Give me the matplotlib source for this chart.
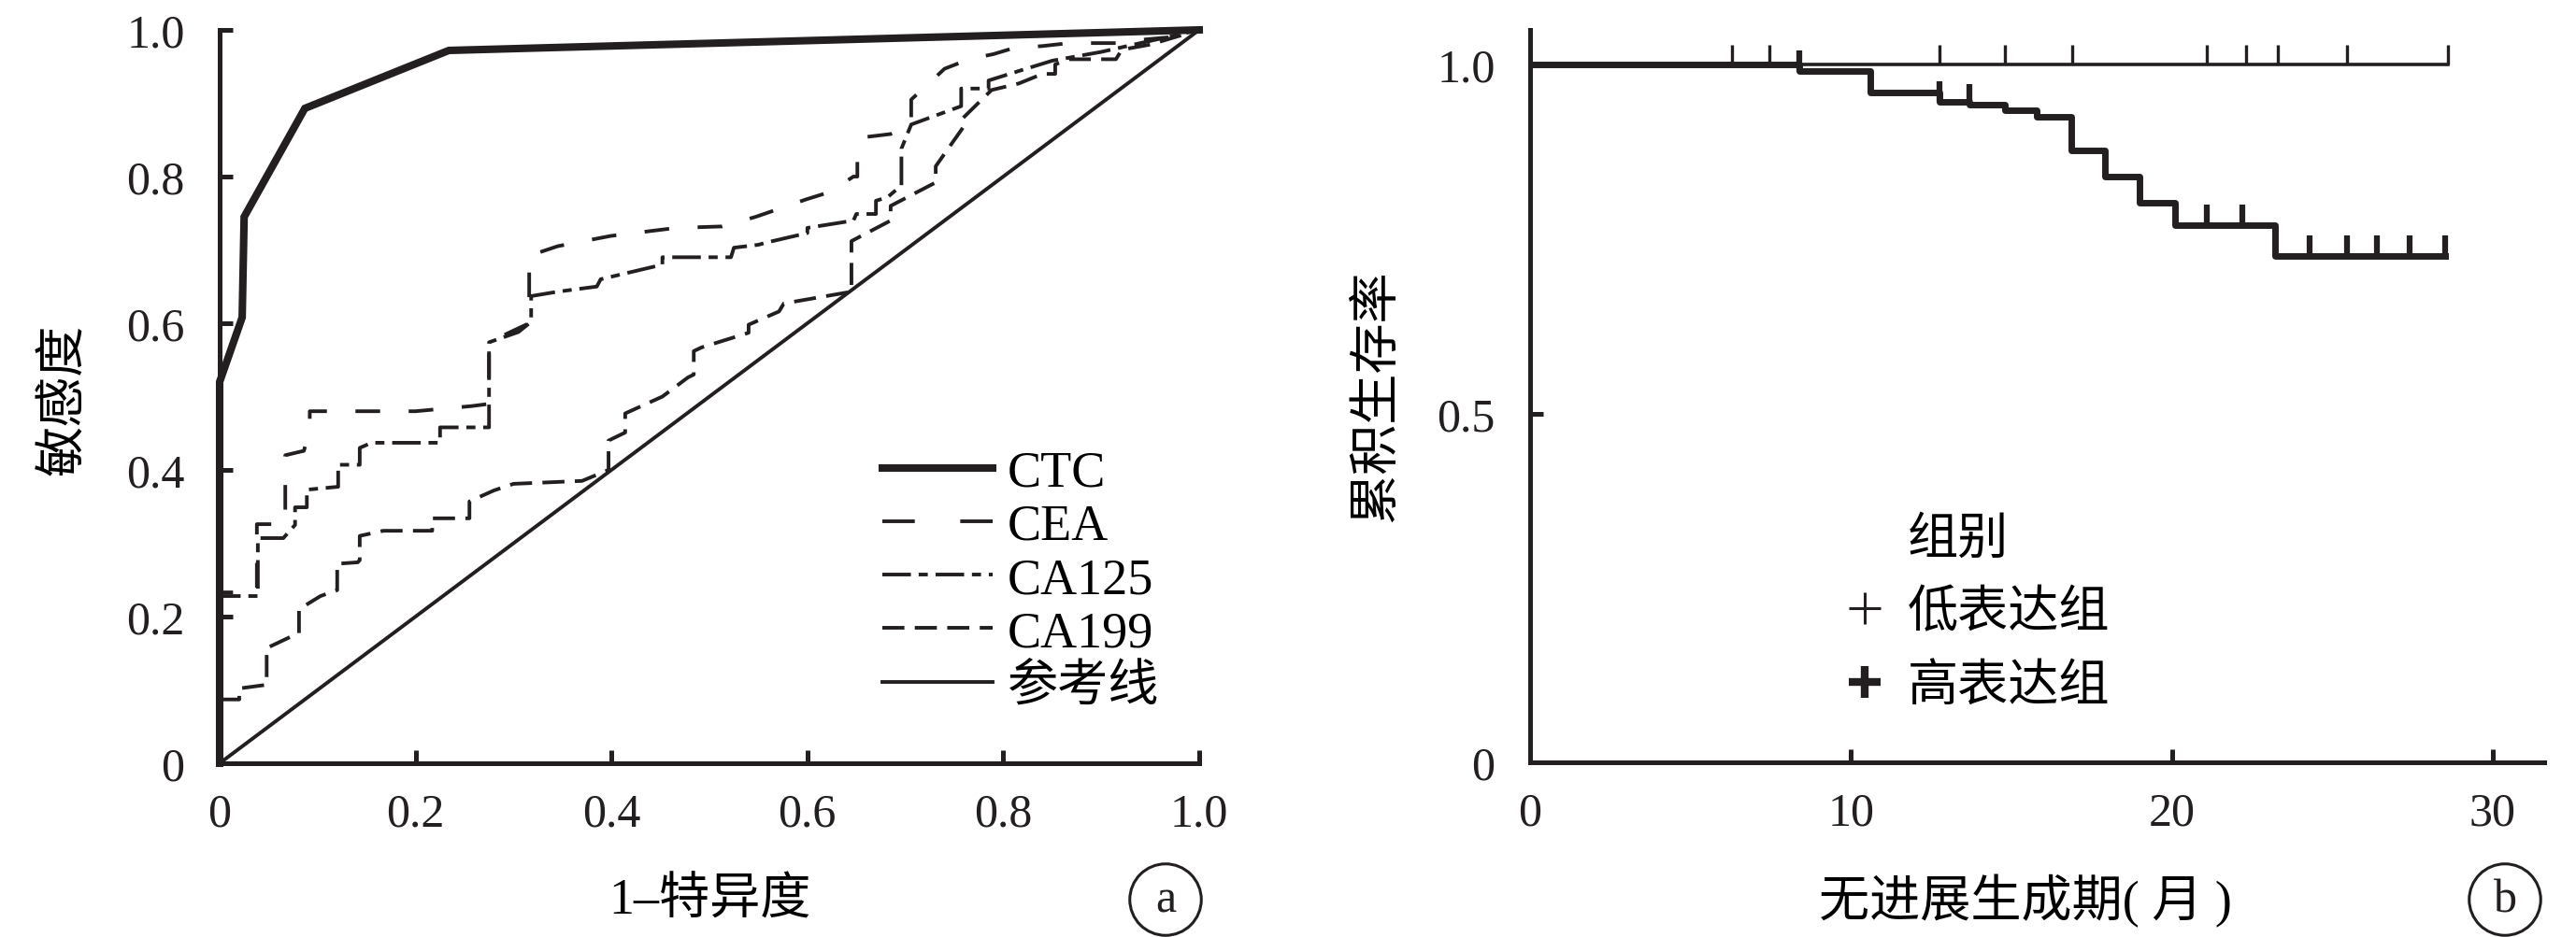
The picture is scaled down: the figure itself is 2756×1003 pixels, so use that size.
import numpy as np
import matplotlib
matplotlib.use("Agg")
import matplotlib.pyplot as plt
from matplotlib.lines import Line2D
from matplotlib.path import Path

plt.rcParams['font.family'] = ['Liberation Serif', 'Noto Sans CJK SC']
plt.rcParams['lines.scale_dashes'] = False
plt.rcParams['axes.unicode_minus'] = False

INK = '#231f20'

# ---------------- Panel a: ROC curves ----------------
ctc_fpr = [0.0, 0.0, 0.023, 0.025, 0.087, 0.234, 1.0]
ctc_tpr = [0.0, 0.52, 0.608, 0.745, 0.893, 0.972, 1.0]

cea_fpr = [0.0, 0.0, 0.038, 0.038, 0.067, 0.067, 0.086, 0.092, 0.092, 0.160,
           0.200, 0.257, 0.275, 0.275, 0.300, 0.316, 0.316, 0.345, 0.399, 0.466,
           0.513, 0.547, 0.571, 0.599, 0.623, 0.647, 0.651, 0.651, 0.660, 0.685,
           0.706, 0.706, 0.724, 0.740, 0.765, 0.790, 0.810, 0.840, 0.867, 0.890,
           0.920, 0.945, 0.970, 1.0]
cea_tpr = [0.0, 0.233, 0.233, 0.326, 0.326, 0.420, 0.426, 0.455, 0.480, 0.480,
           0.480, 0.487, 0.490, 0.574, 0.590, 0.600, 0.692, 0.705, 0.719, 0.730,
           0.732, 0.745, 0.756, 0.769, 0.779, 0.800, 0.800, 0.830, 0.854, 0.858,
           0.871, 0.905, 0.927, 0.947, 0.960, 0.967, 0.975, 0.978, 0.982, 0.982,
           0.982, 0.987, 0.990, 1.0]

ca125_fpr = [0.0, 0.0, 0.039, 0.039, 0.065, 0.077, 0.077, 0.089, 0.089, 0.121,
             0.121, 0.143, 0.143, 0.155, 0.225, 0.225, 0.275, 0.275, 0.305, 0.318,
             0.318, 0.345, 0.385, 0.389, 0.446, 0.452, 0.452, 0.522, 0.525, 0.550,
             0.558, 0.600, 0.600, 0.647, 0.650, 0.670, 0.670, 0.682, 0.696, 0.696,
             0.706, 0.757, 0.757, 0.785, 0.785, 0.816, 0.850, 0.900, 0.950, 1.0]
ca125_tpr = [0.0, 0.228, 0.228, 0.307, 0.307, 0.325, 0.349, 0.349, 0.373, 0.377,
             0.407, 0.407, 0.430, 0.437, 0.437, 0.458, 0.458, 0.574, 0.588, 0.602,
             0.637, 0.643, 0.650, 0.660, 0.678, 0.680, 0.690, 0.690, 0.703, 0.707,
             0.710, 0.723, 0.730, 0.740, 0.749, 0.749, 0.767, 0.772, 0.788, 0.838,
             0.871, 0.896, 0.920, 0.920, 0.931, 0.944, 0.958, 0.970, 0.985, 1.0]

ca199_fpr = [0.0, 0.0, 0.020, 0.020, 0.048, 0.048, 0.075, 0.081, 0.081, 0.103,
             0.120, 0.120, 0.141, 0.143, 0.143, 0.167, 0.217, 0.217, 0.255, 0.255,
             0.280, 0.300, 0.370, 0.397, 0.397, 0.414, 0.414, 0.452, 0.478, 0.484,
             0.484, 0.492, 0.540, 0.540, 0.571, 0.576, 0.645, 0.645, 0.685, 0.685,
             0.731, 0.731, 0.759, 0.759, 0.788, 0.816, 0.840, 0.853, 0.853, 0.867,
             0.915, 0.921, 0.950, 1.0]
ca199_tpr = [0.0, 0.087, 0.087, 0.102, 0.107, 0.157, 0.174, 0.177, 0.210, 0.228,
             0.236, 0.272, 0.274, 0.277, 0.310, 0.317, 0.317, 0.334, 0.334, 0.357,
             0.372, 0.381, 0.385, 0.400, 0.440, 0.451, 0.477, 0.500, 0.526, 0.530,
             0.562, 0.567, 0.587, 0.598, 0.616, 0.627, 0.643, 0.712, 0.740, 0.760,
             0.792, 0.814, 0.867, 0.880, 0.918, 0.927, 0.940, 0.940, 0.953, 0.960,
             0.960, 0.973, 0.980, 1.0]

ref_fpr = [0.0, 1.0]
ref_tpr = [0.0, 1.0]

roc_labels = ['CTC', 'CEA', 'CA125', 'CA199', '参考线']
roc_ticks = [0, 0.2, 0.4, 0.6, 0.8, 1.0]
roc_ticklabels = ['0', '0.2', '0.4', '0.6', '0.8', '1.0']

# ---------------- Panel b: Kaplan-Meier ----------------
low_t = [0, 28.6]
low_s = [1.0, 1.0]
low_censor = [6.3, 7.45, 12.75, 14.8, 16.9, 21.1, 22.3, 23.3, 25.45, 28.6]

high_t = [0, 8.4, 10.6, 12.75, 13.7, 14.8, 15.8, 16.85, 17.9, 19.0, 20.1, 23.2, 28.5]
high_s = [1.0, 0.991, 0.960, 0.946, 0.942, 0.935, 0.925, 0.877, 0.839, 0.802,
          0.770, 0.726, 0.726]
high_censor = [8.4, 12.75, 13.7, 21.1, 22.2, 24.3, 25.45, 26.4, 27.4, 28.5]

km_groups = ['低表达组', '高表达组']
km_xticks = [0, 10, 20, 30]
km_yticks = [0, 0.5, 1.0]
km_yticklabels = ['0', '0.5', '1.0']

FS_TICK = 36
FS_TEXT = 39
W, H = 2756, 1004
fig = plt.figure(figsize=(W / 100, H / 100), dpi=100)

# ---------- axes a ----------
ax1 = fig.add_axes([235 / W, 1 - 818 / H, 1048 / W, 785 / H])
LW = 2.8
ax1.plot(ref_fpr, ref_tpr, color=INK, lw=LW, clip_on=False, zorder=3)
ax1.plot(ca199_fpr, ca199_tpr, color=INK, lw=LW, dashes=(17, 8),
         clip_on=False, zorder=4)
ax1.plot(ca125_fpr, ca125_tpr, color=INK, lw=LW, dashes=(22, 6, 7, 6),
         clip_on=False, zorder=4)
ax1.plot(cea_fpr, cea_tpr, color=INK, lw=LW, dashes=(19, 22),
         clip_on=False, zorder=4)
ax1.plot(ctc_fpr, ctc_tpr, color=INK, lw=5.8, solid_joinstyle='miter',
         clip_on=False, zorder=5)

ax1.set_xlim(0, 1)
ax1.set_ylim(0, 1)
ax1.set_xticks(roc_ticks)
ax1.set_xticklabels(roc_ticklabels)
ax1.set_yticks(roc_ticks)
ax1.set_yticklabels(roc_ticklabels)

handles = [
    Line2D([], [], color=INK, lw=5.8),
    Line2D([], [], color=INK, lw=LW, dashes=(25, 35)),
    Line2D([], [], color=INK, lw=LW, dashes=(22, 6, 7, 6)),
    Line2D([], [], color=INK, lw=LW, dashes=(17, 8)),
    Line2D([], [], color=INK, lw=LW),
]
ax1.legend(handles, roc_labels, loc='upper left', bbox_to_anchor=(0.6765, 0.428),
           frameon=False, fontsize=FS_TEXT, handlelength=2.17, handletextpad=0.3,
           labelspacing=0.125, borderpad=0, borderaxespad=0)

ax1.set_xlabel('1–特异度', fontsize=FS_TEXT, va='center')
ax1.xaxis.set_label_coords(0.5, -0.188)
ax1.set_ylabel('敏感度', fontsize=FS_TEXT, va='center')
ax1.yaxis.set_label_coords(-0.157, 0.497)

# ---------- axes b ----------
px_per_x = 1030 / 30
ax2 = fig.add_axes([1637 / W, 1 - 817 / H, 31.6 * px_per_x / W, 1.05 * 747 / H])
ax2.step(low_t, low_s, where='post', color=INK, lw=2.6, zorder=3)
ax2.step(high_t, high_s, where='post', color=INK, lw=5.0, zorder=4)

tick_marker = Path([(0, 0), (0, 1)], [Path.MOVETO, Path.LINETO])


def surv_at(times, surv, t):
    idx = np.searchsorted(times, t, side='right') - 1
    return np.asarray(surv)[idx]


ax2.plot(low_censor, surv_at(low_t, low_s, low_censor), ls='none',
         marker=tick_marker, ms=30, mew=2.4, mec=INK, zorder=3)
ax2.plot(high_censor, surv_at(high_t, high_s, high_censor), ls='none',
         marker=tick_marker, ms=32, mew=4.5, mec=INK, zorder=4)

ax2.set_xlim(0, 31.6)
ax2.set_ylim(0, 1.05)
ax2.set_xticks(km_xticks)
ax2.set_yticks(km_yticks)
ax2.set_yticklabels(km_yticklabels)

khandles = [
    Line2D([], [], ls='none'),
    Line2D([], [], ls='none', marker='+', ms=24, mew=2.2, color=INK),
    Line2D([], [], ls='none', marker='+', ms=24, mew=6, color=INK),
]
ax2.legend(khandles, ['组别'] + km_groups, loc='upper left',
           bbox_to_anchor=(0.31, 0.335), frameon=False, fontsize=FS_TEXT,
           handlelength=0.8, handletextpad=0.45, labelspacing=0.52,
           borderpad=0, borderaxespad=0)

ax2.set_xlabel('无进展生成期( 月 )', fontsize=FS_TEXT, va='center')
ax2.xaxis.set_label_coords(0.4885, -0.188)
ax2.set_ylabel('累积生存率', fontsize=FS_TEXT, va='center')
ax2.yaxis.set_label_coords(-0.150, 0.502)

for ax in (ax1, ax2):
    for s in ('top', 'right'):
        ax.spines[s].set_visible(False)
    for s in ('left', 'bottom'):
        ax.spines[s].set_linewidth(3.6)
        ax.spines[s].set_color(INK)
        ax.spines[s].set_capstyle('projecting')
    ax.tick_params(direction='in', length=10, width=3.6, color=INK,
                   labelsize=FS_TICK, labelcolor=INK)
    ax.tick_params(axis='y', pad=27)
    ax.tick_params(axis='x', pad=22)

# circled panel letters
for xf, letter in ((1247 / W, 'a'), (2680 / W, 'b')):
    fig.text(xf, 1 - 964 / H, letter, fontsize=FS_TICK, ha='center', va='center',
             color=INK,
             bbox=dict(boxstyle='circle,pad=0.3', fc='none', ec=INK, lw=2.2))

fig.savefig('out.png', dpi=100, facecolor='white')
